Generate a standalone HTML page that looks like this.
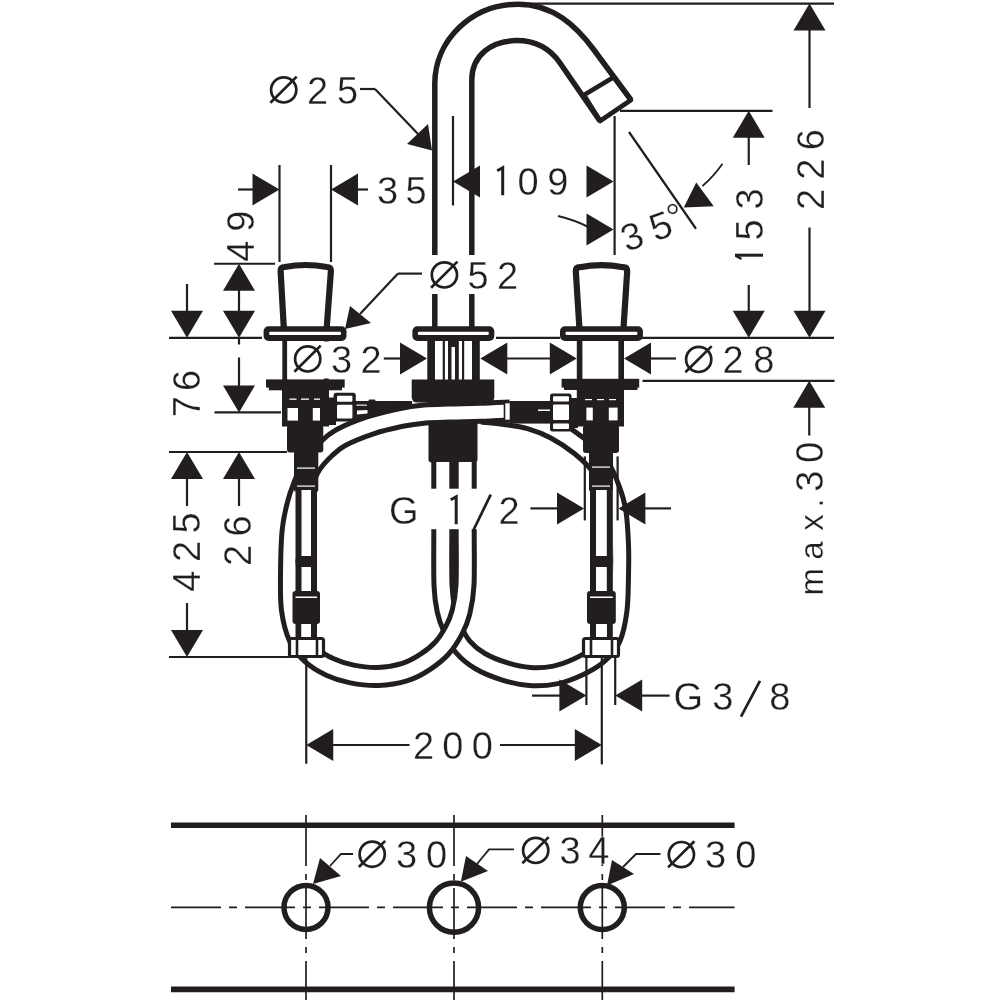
<!DOCTYPE html>
<html><head><meta charset="utf-8"><style>
html,body{margin:0;padding:0;background:#fff;width:1000px;height:1000px;overflow:hidden}
svg{display:block;will-change:transform}
text{font-family:"Liberation Sans",sans-serif;fill:#221e1f;stroke:#fff;stroke-width:0.3px;paint-order:normal}
</style></head><body>
<svg width="1000" height="1000" viewBox="0 0 1000 1000">
<rect width="1000" height="1000" fill="#fff"/>
<rect x="428.5" y="398" width="49.00" height="64.50" rx="3" fill="#221e1f"/>
<path d="M442.8,462 C442.80,473.33 442.77,509.50 442.8,530 C442.83,550.50 442.47,571.67 443,585 C443.53,598.33 444.42,602.67 446,610 C447.58,617.33 449.67,622.83 452.5,629 C455.33,635.17 458.42,641.67 463,647 C467.58,652.33 473.00,656.92 480,661 C487.00,665.08 496.67,668.92 505,671.5 C513.33,674.08 521.67,675.92 530,676.5 C538.33,677.08 547.00,676.58 555,675 C563.00,673.42 570.83,670.33 578,667 C585.17,663.67 592.42,659.83 598,655 C603.58,650.17 608.17,645.50 611.5,638 C614.83,630.50 616.67,620.50 618,610 C619.33,599.50 619.25,585.83 619.5,575 C619.75,564.17 619.92,555.50 619.5,545 C619.08,534.50 618.42,521.17 617,512 C615.58,502.83 613.83,497.58 611,490 C608.17,482.42 605.17,473.75 600,466.5 C594.83,459.25 587.50,452.58 580,446.5 C572.50,440.42 563.33,434.42 555,430 C546.67,425.58 538.33,422.42 530,420 C521.67,417.58 513.00,416.67 505,415.5 C497.00,414.33 485.83,413.42 482,413" fill="none" stroke="#221e1f" stroke-width="23" stroke-linejoin="round"/>
<path d="M442.8,462 C442.80,473.33 442.77,509.50 442.8,530 C442.83,550.50 442.47,571.67 443,585 C443.53,598.33 444.42,602.67 446,610 C447.58,617.33 449.67,622.83 452.5,629 C455.33,635.17 458.42,641.67 463,647 C467.58,652.33 473.00,656.92 480,661 C487.00,665.08 496.67,668.92 505,671.5 C513.33,674.08 521.67,675.92 530,676.5 C538.33,677.08 547.00,676.58 555,675 C563.00,673.42 570.83,670.33 578,667 C585.17,663.67 592.42,659.83 598,655 C603.58,650.17 608.17,645.50 611.5,638 C614.83,630.50 616.67,620.50 618,610 C619.33,599.50 619.25,585.83 619.5,575 C619.75,564.17 619.92,555.50 619.5,545 C619.08,534.50 618.42,521.17 617,512 C615.58,502.83 613.83,497.58 611,490 C608.17,482.42 605.17,473.75 600,466.5 C594.83,459.25 587.50,452.58 580,446.5 C572.50,440.42 563.33,434.42 555,430 C546.67,425.58 538.33,422.42 530,420 C521.67,417.58 513.00,416.67 505,415.5 C497.00,414.33 485.83,413.42 482,413" fill="none" stroke="#fff" stroke-width="13" stroke-linejoin="round"/>
<rect x="355" y="401" width="57.00" height="17.00" rx="0" fill="#221e1f"/>
<rect x="368.5" y="399.6" width="7.00" height="2.40" rx="1.2" fill="#221e1f"/>
<rect x="356.5" y="404.6" width="10.50" height="1.10" rx="0" fill="#fff"/>
<polygon points="357.00,410.50 367.50,410.00 367.50,413.50 357.00,414.50" fill="#fff"/>
<path d="M465.2,462 C465.20,473.33 465.23,509.50 465.2,530 C465.17,550.50 465.70,571.33 465,585 C464.30,598.67 462.83,604.50 461,612 C459.17,619.50 457.17,624.00 454,630 C450.83,636.00 446.83,642.67 442,648 C437.17,653.33 431.17,658.00 425,662 C418.83,666.00 412.83,669.58 405,672 C397.17,674.42 386.83,676.17 378,676.5 C369.17,676.83 360.00,675.58 352,674 C344.00,672.42 336.83,670.17 330,667 C323.17,663.83 316.33,659.83 311,655 C305.67,650.17 301.42,645.50 298,638 C294.58,630.50 291.92,620.50 290.5,610 C289.08,599.50 289.42,588.00 289.5,575 C289.58,562.00 289.92,543.67 291,532 C292.08,520.33 294.00,513.00 296,505 C298.00,497.00 300.33,490.67 303,484 C305.67,477.33 308.17,470.83 312,465 C315.83,459.17 321.17,453.58 326,449 C330.83,444.42 333.67,441.42 341,437.5 C348.33,433.58 360.00,428.83 370,425.5 C380.00,422.17 391.83,419.42 401,417.5 C410.17,415.58 416.83,414.75 425,414 C433.17,413.25 440.83,413.28 450,413 C459.17,412.72 470.00,412.63 480,412.3 C490.00,411.97 505.00,411.22 510,411" fill="none" stroke="#221e1f" stroke-width="23" stroke-linejoin="round"/>
<path d="M465.2,462 C465.20,473.33 465.23,509.50 465.2,530 C465.17,550.50 465.70,571.33 465,585 C464.30,598.67 462.83,604.50 461,612 C459.17,619.50 457.17,624.00 454,630 C450.83,636.00 446.83,642.67 442,648 C437.17,653.33 431.17,658.00 425,662 C418.83,666.00 412.83,669.58 405,672 C397.17,674.42 386.83,676.17 378,676.5 C369.17,676.83 360.00,675.58 352,674 C344.00,672.42 336.83,670.17 330,667 C323.17,663.83 316.33,659.83 311,655 C305.67,650.17 301.42,645.50 298,638 C294.58,630.50 291.92,620.50 290.5,610 C289.08,599.50 289.42,588.00 289.5,575 C289.58,562.00 289.92,543.67 291,532 C292.08,520.33 294.00,513.00 296,505 C298.00,497.00 300.33,490.67 303,484 C305.67,477.33 308.17,470.83 312,465 C315.83,459.17 321.17,453.58 326,449 C330.83,444.42 333.67,441.42 341,437.5 C348.33,433.58 360.00,428.83 370,425.5 C380.00,422.17 391.83,419.42 401,417.5 C410.17,415.58 416.83,414.75 425,414 C433.17,413.25 440.83,413.28 450,413 C459.17,412.72 470.00,412.63 480,412.3 C490.00,411.97 505.00,411.22 510,411" fill="none" stroke="#fff" stroke-width="13" stroke-linejoin="round"/>
<path d="M434.8,327 L434.8,84 C434.8,40 472,4.2 518,4.2 C553,4.2 576.2,25.9 594,50 L631,100" fill="none" stroke="#221e1f" stroke-width="5.5" />
<path d="M471.8,327 L471.8,80 C471.8,55 492,40.6 516.6,40.6 C540,40.6 553,53 560,63 L600,121" fill="none" stroke="#221e1f" stroke-width="5.5" />
<path d="M584,95 L614,77 L631,100 L600,121 Z" fill="none" stroke="#221e1f" stroke-width="4.6" stroke-linejoin="round"/>
<path d="M283.8,328 L280.6,271.0 Q280.6,267.0 284.6,267.0 Q305.8,263.0 326.9,267.0 Q330.9,267.0 330.9,271.0 L326.7,328" fill="none" stroke="#221e1f" stroke-width="6.2" stroke-linejoin="round"/>
<path d="M579.4,328 L575.8,271.2 Q575.8,267.2 579.8,267.2 Q601.5,263.2 623.2,267.2 Q627.2,267.2 627.2,271.2 L623.5,328" fill="none" stroke="#221e1f" stroke-width="6.2" stroke-linejoin="round"/>
<rect x="263.6" y="326.2" width="82.90" height="14.80" rx="5" fill="#221e1f"/>
<rect x="269.1" y="331.8" width="71.90" height="3.20" rx="1.2" fill="#fff"/>
<rect x="412.4" y="326.2" width="81.90" height="14.80" rx="5" fill="#221e1f"/>
<rect x="417.9" y="331.8" width="70.90" height="3.20" rx="1.2" fill="#fff"/>
<rect x="560" y="326.2" width="82.90" height="14.80" rx="5" fill="#221e1f"/>
<rect x="565.5" y="331.8" width="71.90" height="3.20" rx="1.2" fill="#fff"/>
<rect x="282.3" y="340" width="4.90" height="40.00" rx="0" fill="#221e1f"/>
<rect x="323.8" y="340" width="5.00" height="40.00" rx="0" fill="#221e1f"/>
<rect x="576.8" y="340" width="5.60" height="40.00" rx="0" fill="#221e1f"/>
<rect x="618.4" y="340" width="5.60" height="40.00" rx="0" fill="#221e1f"/>
<rect x="427.3" y="340" width="7.70" height="40.00" rx="0" fill="#221e1f"/>
<rect x="472" y="340" width="7.80" height="40.00" rx="0" fill="#221e1f"/>
<rect x="442.7" y="340" width="2.20" height="40.00" rx="0" fill="#221e1f"/>
<rect x="448" y="340" width="10.80" height="40.00" rx="0" fill="#221e1f"/>
<rect x="462" y="340" width="2.20" height="40.00" rx="0" fill="#221e1f"/>
<rect x="451.5" y="347" width="3.50" height="33.00" rx="0" fill="#fff"/>
<path d="M411.7,379.5 H494.3 V397 Q494.3,402.6 488.7,402.6 H417.3 Q411.7,402.6 411.7,397 Z" fill="#221e1f"/>
<rect x="266" y="379.4" width="78.70" height="8.20" rx="0" fill="#221e1f"/>
<rect x="268.8" y="387" width="73.20" height="3.30" rx="0" fill="#221e1f"/>
<rect x="282" y="389" width="47.00" height="37.50" rx="0" fill="#221e1f"/>
<rect x="328" y="397.5" width="8.00" height="27.50" rx="0" fill="#221e1f"/>
<rect x="287" y="425" width="36.30" height="27.50" rx="3" fill="#221e1f"/>
<rect x="294" y="451" width="24.30" height="41.00" rx="2" fill="#221e1f"/>
<rect x="287.5" y="408" width="10.50" height="12.60" rx="0" fill="#fff"/>
<rect x="312.8" y="408" width="7.20" height="12.60" rx="0" fill="#fff"/>
<rect x="289.5" y="398.5" width="7.00" height="1.30" rx="0" fill="#fff"/>
<rect x="301" y="398.5" width="8.00" height="1.30" rx="0" fill="#fff"/>
<rect x="314" y="398.5" width="6.00" height="1.30" rx="0" fill="#fff"/>
<rect x="297" y="467.5" width="18.00" height="1.20" rx="0" fill="#fff"/>
<rect x="297" y="485.5" width="18.00" height="1.20" rx="0" fill="#fff"/>
<rect x="333.6" y="392.8" width="22.20" height="28.70" rx="2.5" fill="#221e1f"/>
<rect x="337" y="395.8" width="15.40" height="6.00" rx="1" fill="#fff"/>
<rect x="337" y="404.8" width="15.40" height="13.70" rx="1" fill="#fff"/>
<rect x="561.6" y="378.8" width="77.60" height="8.80" rx="0" fill="#221e1f"/>
<rect x="564" y="387" width="73.50" height="3.00" rx="0" fill="#221e1f"/>
<rect x="576.8" y="389" width="47.20" height="37.50" rx="0" fill="#221e1f"/>
<rect x="583" y="425" width="36.00" height="28.00" rx="3" fill="#221e1f"/>
<rect x="589" y="451" width="24.00" height="40.60" rx="2" fill="#221e1f"/>
<rect x="586.4" y="407.6" width="6.40" height="12.80" rx="0" fill="#fff"/>
<rect x="608.8" y="407.6" width="8.80" height="12.80" rx="0" fill="#fff"/>
<rect x="585" y="399" width="7.00" height="1.20" rx="0" fill="#fff"/>
<rect x="597" y="399" width="7.00" height="1.20" rx="0" fill="#fff"/>
<rect x="609" y="399" width="7.00" height="1.20" rx="0" fill="#fff"/>
<rect x="592" y="466.5" width="18.00" height="1.20" rx="0" fill="#fff"/>
<rect x="592" y="485.5" width="18.00" height="1.20" rx="0" fill="#fff"/>
<rect x="509.6" y="401" width="41.40" height="22.60" rx="0" fill="#221e1f"/>
<rect x="538" y="409.5" width="12.00" height="1.50" rx="0" fill="#fff"/>
<rect x="504.5" y="402.5" width="6.00" height="18.00" rx="0" fill="#fff"/>
<rect x="504.5" y="402.5" width="6" height="18" fill="#fff" stroke="#221e1f" stroke-width="1.6"/>
<rect x="569" y="398" width="9.00" height="30.00" rx="0" fill="#221e1f"/>
<rect x="550" y="393.5" width="21.50" height="38.00" rx="2.5" fill="#221e1f"/>
<rect x="553" y="396.2" width="16.00" height="5.30" rx="1" fill="#fff"/>
<rect x="553" y="404.5" width="16.00" height="15.50" rx="1" fill="#fff"/>
<rect x="553" y="423.5" width="16.00" height="5.50" rx="1" fill="#fff"/>
<rect x="295.5" y="490" width="21.50" height="150.00" rx="0" fill="#fff"/>
<rect x="295.5" y="490" width="6.00" height="148.00" rx="0" fill="#221e1f"/>
<rect x="311" y="490" width="6.00" height="148.00" rx="0" fill="#221e1f"/>
<rect x="295.5" y="556" width="21.50" height="11.00" rx="4" fill="#221e1f"/>
<rect x="292.5" y="591" width="27.50" height="33.00" rx="3" fill="#221e1f"/>
<rect x="295.5" y="596.5" width="21.50" height="1.50" rx="0" fill="#fff"/>
<rect x="301.5" y="624" width="9.50" height="13.00" rx="0" fill="#fff"/>
<rect x="289.5" y="638.5" width="34" height="18" rx="2" fill="#fff" stroke="#221e1f" stroke-width="3.2"/>
<line x1="297" y1="639" x2="297" y2="656" stroke="#221e1f" stroke-width="2.6"/>
<line x1="317" y1="639" x2="317" y2="656" stroke="#221e1f" stroke-width="2.6"/>
<rect x="590" y="490" width="22.80" height="150.00" rx="0" fill="#fff"/>
<rect x="590" y="490" width="6.00" height="148.00" rx="0" fill="#221e1f"/>
<rect x="606.8" y="490" width="6.00" height="148.00" rx="0" fill="#221e1f"/>
<rect x="590" y="556" width="22.80" height="11.00" rx="4" fill="#221e1f"/>
<rect x="587" y="591" width="28.80" height="33.00" rx="3" fill="#221e1f"/>
<rect x="590" y="596.5" width="22.80" height="1.50" rx="0" fill="#fff"/>
<rect x="596" y="624" width="10.80" height="13.00" rx="0" fill="#fff"/>
<rect x="583.5" y="638.5" width="35" height="18" rx="2" fill="#fff" stroke="#221e1f" stroke-width="3.2"/>
<line x1="591" y1="639" x2="591" y2="656" stroke="#221e1f" stroke-width="2.6"/>
<line x1="612" y1="639" x2="612" y2="656" stroke="#221e1f" stroke-width="2.6"/>
<line x1="169" y1="337.8" x2="262" y2="337.8" stroke="#221e1f" stroke-width="2.2"/>
<line x1="496" y1="337.8" x2="560" y2="337.8" stroke="#221e1f" stroke-width="2.2"/>
<line x1="642" y1="337.8" x2="834" y2="337.8" stroke="#221e1f" stroke-width="2.2"/>
<line x1="239" y1="337" x2="239" y2="344.5" stroke="#221e1f" stroke-width="2.2"/>
<line x1="518" y1="3.6" x2="834" y2="3.6" stroke="#221e1f" stroke-width="2.2"/>
<line x1="620" y1="110.8" x2="772.5" y2="110.8" stroke="#221e1f" stroke-width="2.2"/>
<line x1="642.5" y1="380.8" x2="834.5" y2="380.8" stroke="#221e1f" stroke-width="2.2"/>
<line x1="279.5" y1="165" x2="279.5" y2="262" stroke="#221e1f" stroke-width="2.2"/>
<line x1="331" y1="165" x2="331" y2="262" stroke="#221e1f" stroke-width="2.2"/>
<line x1="238" y1="189.5" x2="254" y2="189.5" stroke="#221e1f" stroke-width="2.2"/>
<line x1="356" y1="189.5" x2="368" y2="189.5" stroke="#221e1f" stroke-width="2.2"/>
<polygon points="279.50,189.50 252.50,205.50 252.50,173.50" fill="#221e1f"/>
<polygon points="331.00,189.50 358.00,173.50 358.00,205.50" fill="#221e1f"/>
<line x1="214" y1="263.75" x2="275" y2="263.75" stroke="#221e1f" stroke-width="2.2"/>
<line x1="239" y1="290" x2="239" y2="312" stroke="#221e1f" stroke-width="2.2"/>
<polygon points="239.00,263.75 255.00,290.75 223.00,290.75" fill="#221e1f"/>
<polygon points="239.00,337.80 223.00,310.80 255.00,310.80" fill="#221e1f"/>
<line x1="187" y1="284" x2="187" y2="312" stroke="#221e1f" stroke-width="2.2"/>
<polygon points="187.00,337.80 171.00,310.80 203.00,310.80" fill="#221e1f"/>
<line x1="239" y1="357.5" x2="239" y2="387" stroke="#221e1f" stroke-width="2.2"/>
<polygon points="239.00,412.40 223.00,385.40 255.00,385.40" fill="#221e1f"/>
<line x1="214.5" y1="412.4" x2="281" y2="412.4" stroke="#221e1f" stroke-width="2.2"/>
<line x1="169" y1="452" x2="287" y2="452" stroke="#221e1f" stroke-width="2.2"/>
<polygon points="187.00,452.00 203.00,479.00 171.00,479.00" fill="#221e1f"/>
<polygon points="239.00,452.00 255.00,479.00 223.00,479.00" fill="#221e1f"/>
<line x1="187" y1="478" x2="187" y2="506" stroke="#221e1f" stroke-width="2.2"/>
<line x1="239" y1="478" x2="239" y2="506" stroke="#221e1f" stroke-width="2.2"/>
<line x1="187" y1="603" x2="187" y2="632" stroke="#221e1f" stroke-width="2.2"/>
<polygon points="187.00,657.00 171.00,630.00 203.00,630.00" fill="#221e1f"/>
<line x1="169" y1="657" x2="290" y2="657" stroke="#221e1f" stroke-width="2.2"/>
<line x1="453" y1="116" x2="453" y2="205.5" stroke="#221e1f" stroke-width="2.2"/>
<line x1="614.6" y1="116" x2="614.6" y2="255" stroke="#221e1f" stroke-width="2.2"/>
<polygon points="453.00,181.50 480.00,165.50 480.00,197.50" fill="#221e1f"/>
<polygon points="613.50,181.50 586.50,197.50 586.50,165.50" fill="#221e1f"/>
<line x1="629" y1="132" x2="696" y2="228.75" stroke="#221e1f" stroke-width="2.2"/>
<polygon points="683.75,207.50 696.25,182.50 713.75,206.25" fill="#221e1f"/>
<path d="M702.5,186 Q714,176 722.5,163.75" fill="none" stroke="#221e1f" stroke-width="1.8" />
<polygon points="613.50,229.50 586.50,245.50 586.50,213.50" fill="#221e1f"/>
<path d="M558,216 Q575,220 589,227.4" fill="none" stroke="#221e1f" stroke-width="1.8" />
<polygon points="748.75,110.80 764.75,137.80 732.75,137.80" fill="#221e1f"/>
<line x1="748.75" y1="136" x2="748.75" y2="165" stroke="#221e1f" stroke-width="2.2"/>
<line x1="748.75" y1="285" x2="748.75" y2="313" stroke="#221e1f" stroke-width="2.2"/>
<polygon points="748.75,337.80 732.75,310.80 764.75,310.80" fill="#221e1f"/>
<polygon points="809.50,3.60 825.50,30.60 793.50,30.60" fill="#221e1f"/>
<line x1="809.5" y1="28" x2="809.5" y2="108" stroke="#221e1f" stroke-width="2.2"/>
<line x1="809.5" y1="227.5" x2="809.5" y2="312" stroke="#221e1f" stroke-width="2.2"/>
<polygon points="809.50,337.80 793.50,310.80 825.50,310.80" fill="#221e1f"/>
<polygon points="809.25,380.80 825.25,407.80 793.25,407.80" fill="#221e1f"/>
<line x1="809.25" y1="406" x2="809.25" y2="435.5" stroke="#221e1f" stroke-width="2.2"/>
<line x1="383.8" y1="358.5" x2="402" y2="358.5" stroke="#221e1f" stroke-width="2.2"/>
<polygon points="427.00,358.50 400.00,374.50 400.00,342.50" fill="#221e1f"/>
<polygon points="480.30,358.50 507.30,342.50 507.30,374.50" fill="#221e1f"/>
<line x1="504" y1="358.5" x2="553" y2="358.5" stroke="#221e1f" stroke-width="2.2"/>
<polygon points="576.80,358.50 549.80,374.50 549.80,342.50" fill="#221e1f"/>
<polygon points="624.00,358.50 651.00,342.50 651.00,374.50" fill="#221e1f"/>
<line x1="647" y1="358.5" x2="676" y2="358.5" stroke="#221e1f" stroke-width="2.2"/>
<line x1="584.8" y1="456.4" x2="584.8" y2="520.4" stroke="#221e1f" stroke-width="2.2"/>
<line x1="617.6" y1="456.4" x2="617.6" y2="520.4" stroke="#221e1f" stroke-width="2.2"/>
<line x1="530.4" y1="508.4" x2="559" y2="508.4" stroke="#221e1f" stroke-width="2.2"/>
<polygon points="584.00,508.40 557.00,524.40 557.00,492.40" fill="#221e1f"/>
<polygon points="618.40,508.40 645.40,492.40 645.40,524.40" fill="#221e1f"/>
<line x1="643" y1="508.4" x2="671" y2="508.4" stroke="#221e1f" stroke-width="2.2"/>
<line x1="586.4" y1="657" x2="586.4" y2="705" stroke="#221e1f" stroke-width="2.2"/>
<line x1="615.2" y1="657" x2="615.2" y2="705" stroke="#221e1f" stroke-width="2.2"/>
<line x1="532" y1="695.6" x2="561" y2="695.6" stroke="#221e1f" stroke-width="2.2"/>
<polygon points="586.40,695.60 559.40,711.60 559.40,679.60" fill="#221e1f"/>
<polygon points="615.20,695.60 642.20,679.60 642.20,711.60" fill="#221e1f"/>
<line x1="642" y1="695.6" x2="669.6" y2="695.6" stroke="#221e1f" stroke-width="2.2"/>
<line x1="306.25" y1="658" x2="306.25" y2="763.75" stroke="#221e1f" stroke-width="2.2"/>
<line x1="601.8" y1="657" x2="601.8" y2="764.4" stroke="#221e1f" stroke-width="2.2"/>
<polygon points="306.25,745.00 333.25,729.00 333.25,761.00" fill="#221e1f"/>
<line x1="333" y1="745" x2="409.5" y2="745" stroke="#221e1f" stroke-width="2.2"/>
<line x1="500" y1="745" x2="576" y2="745" stroke="#221e1f" stroke-width="2.2"/>
<polygon points="601.80,745.00 574.80,761.00 574.80,729.00" fill="#221e1f"/>
<line x1="360" y1="89" x2="375" y2="89" stroke="#221e1f" stroke-width="2.2"/>
<line x1="375" y1="89" x2="419" y2="135" stroke="#221e1f" stroke-width="2.2"/>
<polygon points="432.00,150.50 407.00,144.00 428.00,124.00" fill="#221e1f"/>
<line x1="398" y1="273.6" x2="422" y2="273.6" stroke="#221e1f" stroke-width="2.2"/>
<line x1="398" y1="273.6" x2="360" y2="314" stroke="#221e1f" stroke-width="2.2"/>
<polygon points="345.00,329.00 350.00,306.00 371.00,323.00" fill="#221e1f"/>
<line x1="171" y1="825.2" x2="734.6" y2="825.2" stroke="#221e1f" stroke-width="5.6"/>
<line x1="171" y1="989.4" x2="734.6" y2="989.4" stroke="#221e1f" stroke-width="5.6"/>
<line x1="171" y1="907.4" x2="734.6" y2="907.4" stroke="#221e1f" stroke-width="1.7" stroke-dasharray="50 8 8 8"/>
<line x1="306" y1="815" x2="306" y2="1000" stroke="#221e1f" stroke-width="1.7" stroke-dasharray="51 8 6 8"/>
<line x1="454" y1="815" x2="454" y2="1000" stroke="#221e1f" stroke-width="1.7" stroke-dasharray="51 8 6 8"/>
<line x1="602.3" y1="815" x2="602.3" y2="1000" stroke="#221e1f" stroke-width="1.7" stroke-dasharray="51 8 6 8"/>
<circle cx="306" cy="907.4" r="22" fill="none" stroke="#221e1f" stroke-width="5.5"/>
<circle cx="454" cy="907.6" r="24.6" fill="none" stroke="#221e1f" stroke-width="5.5"/>
<circle cx="602.3" cy="907.6" r="22" fill="none" stroke="#221e1f" stroke-width="5.5"/>
<polygon points="313.00,884.00 320.00,858.00 341.00,876.00" fill="#221e1f"/>
<path d="M330,866 L341,854 L353,854" fill="none" stroke="#221e1f" stroke-width="1.8" />
<polygon points="460.80,881.70 466.00,856.00 488.00,871.00" fill="#221e1f"/>
<path d="M477,864 L489,849.4 L514,849.4" fill="none" stroke="#221e1f" stroke-width="1.8" />
<polygon points="607.00,885.50 612.00,860.00 634.00,874.00" fill="#221e1f"/>
<path d="M623,867 L636,854 L660.5,854" fill="none" stroke="#221e1f" stroke-width="1.8" />
<rect x="428" y="255" width="92.00" height="39.00" rx="0" fill="#fff"/>
<rect x="287.5" y="341.5" width="93.50" height="37.00" rx="0" fill="#fff"/>
<rect x="389" y="488.7" width="132.00" height="40.50" rx="0" fill="#fff"/>
<circle cx="283.70" cy="89.90" r="12.6" fill="none" stroke="#221e1f" stroke-width="2.7"/>
<line x1="270.40" y1="102.70" x2="296.70" y2="76.60" stroke="#221e1f" stroke-width="2.7"/>
<text x="307.09 336.98" y="103.5" font-size="38">25</text>
<text x="377.05 405.48" y="204.3" font-size="38">35</text>
<path d="M497.20,170.70 L502.70,167.70 L502.70,195.20" fill="none" stroke="#221e1f" stroke-width="3"/>
<text x="517.52 547.22" y="195.2" font-size="38">09</text>
<circle cx="444.40" cy="274.90" r="12.6" fill="none" stroke="#221e1f" stroke-width="2.7"/>
<line x1="431.10" y1="287.70" x2="457.40" y2="261.60" stroke="#221e1f" stroke-width="2.7"/>
<text x="467.48 497.09" y="288.5" font-size="38">52</text>
<circle cx="307.70" cy="358.90" r="12.6" fill="none" stroke="#221e1f" stroke-width="2.7"/>
<line x1="294.40" y1="371.70" x2="320.70" y2="345.60" stroke="#221e1f" stroke-width="2.7"/>
<text x="331.05 360.59" y="372.5" font-size="38">32</text>
<circle cx="698.70" cy="359.40" r="12.6" fill="none" stroke="#221e1f" stroke-width="2.7"/>
<line x1="685.40" y1="372.20" x2="711.70" y2="346.10" stroke="#221e1f" stroke-width="2.7"/>
<text x="722.59 753.35" y="373" font-size="38">28</text>
<path d="M450.70,499.70 L456.20,496.70 L456.20,524.20" fill="none" stroke="#221e1f" stroke-width="3"/>
<text x="389.09 498.59" y="524.2" font-size="38">G2</text>
<line x1="473.5" y1="530" x2="490.7" y2="494.7" stroke="#221e1f" stroke-width="2.7"/>
<text x="673.49 712.35 769.35" y="709.7" font-size="38">G38</text>
<line x1="741" y1="716.6" x2="760" y2="680.9" stroke="#221e1f" stroke-width="2.7"/>
<text x="413.09 442.32 471.72" y="758.7" font-size="38">200</text>
<circle cx="372.20" cy="854.20" r="12.6" fill="none" stroke="#221e1f" stroke-width="2.7"/>
<line x1="358.90" y1="867.00" x2="385.20" y2="840.90" stroke="#221e1f" stroke-width="2.7"/>
<text x="396.05 426.02" y="867.8" font-size="38">30</text>
<circle cx="535.70" cy="850.40" r="12.6" fill="none" stroke="#221e1f" stroke-width="2.7"/>
<line x1="522.40" y1="863.20" x2="548.70" y2="837.10" stroke="#221e1f" stroke-width="2.7"/>
<text x="559.55 588.13" y="864" font-size="38">34</text>
<circle cx="681.40" cy="854.60" r="12.6" fill="none" stroke="#221e1f" stroke-width="2.7"/>
<line x1="668.10" y1="867.40" x2="694.40" y2="841.30" stroke="#221e1f" stroke-width="2.7"/>
<text x="704.95 735.32" y="868.2" font-size="38">30</text>
<text transform="rotate(-90)" x="-261.87 -231.78" y="254" font-size="38">49</text>
<text transform="rotate(-90)" x="-417.35 -390.93" y="199.5" font-size="38">76</text>
<text transform="rotate(-90)" x="-591.87 -561.91 -533.52" y="199.5" font-size="38">425</text>
<text transform="rotate(-90)" x="-565.91 -536.43" y="251" font-size="38">26</text>
<text transform="rotate(-90)" x="-240.52 -209.45" y="763" font-size="38">53</text>
<rect x="735" y="253.7" width="28.00" height="3.00" rx="0" fill="#221e1f"/>
<polygon points="735.00,253.70 735.00,256.70 741.00,260.00 742.00,258.00" fill="#221e1f"/>
<text transform="rotate(-90)" x="-209.91 -179.71 -150.23" y="824.2" font-size="38">226</text>
<text transform="rotate(-90)" x="-595.49 -559.80 -530.67 -507.81" y="822.5" font-size="33">max.</text>
<text transform="rotate(-90)" x="-491.85 -462.98" y="822.5" font-size="38">30</text>
<text transform="translate(626.4,252.3) rotate(-20)" x="0 30.6 50.6" y="0 0 -3.6" font-size="38">35°</text>
</svg></body></html>
